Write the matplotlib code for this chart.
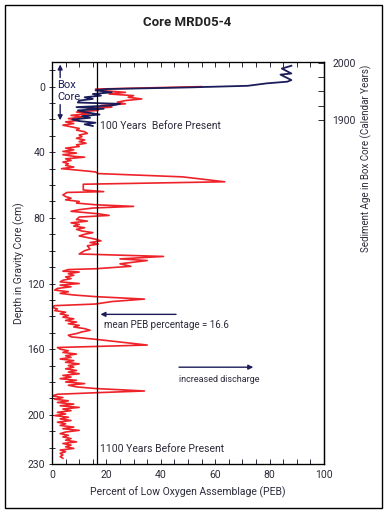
import matplotlib
matplotlib.use("Agg")
import matplotlib.pyplot as plt
from matplotlib.patches import Rectangle
from matplotlib.ticker import MultipleLocator, FixedLocator

# Gravity core: depth (cm) and percent of low oxygen assemblage (PEB)
red_depth = [0, 1.5, 2.5, 3.5, 4.5, 5.5, 6.5, 7.5, 8.5, 9.5, 10.5, 11.5, 12.5, 13.5, 14.5,
             15.5, 16.5, 17.5, 18.5, 19.5, 20.5, 21.5, 22.5, 23.5, 24.5, 25.5, 26.5, 27.5,
             28.5, 29.5, 30.5, 31.5, 32.5, 33.5, 34.5, 35.5, 36.5, 37.5, 38.5, 39.5, 40.5,
             41.5, 42.5, 43, 44, 45, 46, 47, 48, 49, 50, 51, 52, 53, 55, 58, 59.5, 63, 64,
             64.5, 66, 67, 68, 69, 70, 71, 72, 73, 74, 75, 76, 77.5, 78.5, 79.5, 81, 82, 83,
             84, 85, 86, 87, 88, 89, 90, 91, 92, 93, 94, 95, 96, 97, 99, 100, 102, 103.5,
             105, 106, 108, 109.5, 111, 111.5, 112.5, 113, 114, 115, 116, 117, 118, 119, 120,
             121, 122, 123, 124, 125, 126, 127, 128, 129.5, 131, 132.5, 133.5, 134.5, 135.5,
             136.5, 137.5, 138.5, 139.5, 140.5, 141.5, 142.5, 143.5, 144.5, 145.5, 146.5,
             147.5, 148.5, 149.5, 150.5, 151.5, 152.5, 154, 157.5, 159, 160, 161, 162, 163,
             164, 165, 166, 167, 168, 169, 170, 171, 172, 173, 174, 175, 176, 177, 178, 179,
             180, 181, 182, 183, 184, 185.5, 186.5, 187.5, 188.5, 189.5, 190.5, 191.5, 192.5,
             193.5, 194.5, 195.5, 196.5, 197.5, 198.5, 199.5, 200.5, 201.5, 202.5, 203.5,
             204.5, 205.5, 206.5, 207.5, 208.5, 209.5, 210.5, 211.5, 212.5, 213.5, 214.5,
             215.5, 216.5, 217.5, 218.5, 219.5, 220.5, 221.5, 222.5, 223.5, 224.5, 225.5, 226.5]
red_peb = [55, 16, 19, 27, 21, 30, 28, 33, 27, 24, 27, 18, 22, 13, 17,
           9, 14, 7, 11, 6, 10, 5, 8, 4, 7, 10, 9, 12,
           13, 10, 11, 9, 12, 10, 12.5, 9, 10, 5, 8, 4, 9,
           4, 8, 12, 5, 7, 4, 6, 5, 8, 3.5, 10, 16, 17, 48, 63.5, 11.5, 11.5, 19,
           5.5, 4, 5, 7, 5, 10, 9, 16, 30, 15, 10, 7, 17, 21, 10, 9, 13, 7,
           10, 8, 12, 9, 11, 15, 12, 10, 13, 16, 18, 14, 17, 13, 14, 12, 10, 41,
           25, 35, 25, 29, 16, 6, 4, 10, 6, 8, 5, 7, 4, 3, 10,
           3, 7, 2, 1, 6, 3, 8, 16, 34, 22, 16, 1, 0, 2,
           1, 5, 3, 6, 4, 8, 5, 9, 6, 10, 8,
           12, 14, 11, 9, 6, 7, 16, 35, 2, 3, 6, 4, 9,
           5, 7, 3, 8, 5, 10, 6, 8, 5, 9, 6, 10, 4, 7, 3, 9,
           5, 12, 6, 9, 16, 34, 17, 2, 0, 4, 1, 6, 2,
           8, 3, 10, 4, 7, 2, 5, 1, 6, 3, 7,
           2, 5, 3, 8, 4, 10, 5, 3, 6, 4, 7,
           5, 9, 4, 7, 5, 8, 3, 5, 3, 4, 3, 4]

# Box core: depth (cm) and PEB
box_depth = [-12.7, -11, -8, -7.3, -4, -3, -2, -0.5, 0.5, 1.5, 2.3, 3.5, 4.5, 5.5, 6.5,
             7.5, 8.5, 9.7, 10.5, 11.5, 12.5, 13.5, 14.5, 15.5, 17, 18, 19, 20, 21, 22, 23, 24]
box_peb = [88, 84.5, 88, 84, 88, 86.5, 79, 72, 50, 20, 16, 22, 15, 18, 12,
           15, 10, 9.5, 25, 22, 9, 19, 9.5, 12, 17.5, 11, 14, 7.5, 10, 16, 12, 15]

mean_peb = 16.6
depth_labels = [0, 40, 80, 120, 160, 200, 230]
year_labels = [1900, 2000]
year_ticks = [1900, 1925, 1950, 1975, 2000]

RED = "#ee2229"
NAVY = "#1b1d5a"
TXT = "#2b2b3a"

plt.rcParams['font.family'] = ['Roboto', 'DejaVu Sans']

fig = plt.figure(figsize=(3.89, 5.14), dpi=100)
fig.patches.append(Rectangle((5 / 389, 1 - 508 / 514), 377 / 389, 503 / 514,
                             transform=fig.transFigure, fill=False, lw=1.0, ec="black"))

ax = fig.add_axes([52 / 389, 1 - 464 / 514, 272 / 389, 402 / 514])
ax.plot(red_peb, red_depth, color=RED, lw=1.2)
ax.plot(box_peb, box_depth, color=NAVY, lw=1.3)
ax.axvline(mean_peb, color="black", lw=0.9)

ax.set_xlim(0, 100)
ax.set_ylim(230, -15)
ax.xaxis.set_major_locator(MultipleLocator(20))
ax.xaxis.set_minor_locator(MultipleLocator(5))
ax.yaxis.set_major_locator(FixedLocator(depth_labels))
ax.yaxis.set_minor_locator(MultipleLocator(10))
ax.tick_params(axis="x", which="both", direction="in", top=True, length=3.5, width=0.7,
               labelsize=7.5, colors=TXT, pad=4)
ax.tick_params(axis="y", which="both", direction="inout", length=4, width=0.7,
               labelsize=7.5, colors=TXT, pad=3)
for s in ax.spines.values():
    s.set_linewidth(0.9)

ax.set_xlabel("Percent of Low Oxygen Assemblage (PEB)", fontsize=7.5, color=TXT, labelpad=5)
ax.set_ylabel("Depth in Gravity Core (cm)", fontsize=7.5, color=TXT, labelpad=2)

# right axis: calendar years of the box core
ax2 = ax.twinx()
ax2.set_ylim(2000 - (230 + 14.5) / 0.348, 2000 + 0.5 / 0.348)
ax2.yaxis.set_major_locator(FixedLocator(year_labels))
ax2.yaxis.set_minor_locator(FixedLocator(year_ticks))
ax2.tick_params(axis="y", which="both", direction="in", length=4, width=0.7,
                labelsize=7.5, colors=TXT, pad=6)
ax2.spines["right"].set_linewidth(0.9)
fig.text(366 / 389, 1 - 158 / 514, "Sediment Age in Box Core (Calendar Years)",
         rotation=90, ha="center", va="center", fontsize=7, color=TXT)

fig.text(187 / 389, 1 - 22 / 514, "Core MRD05-4", ha="center", va="center",
         fontsize=9.5, fontweight="bold", color="#222222")

# annotations
ax.text(2, 2.5, "Box\nCore", ha="left", va="center", fontsize=8, color=NAVY, linespacing=1.2)
arrow = dict(arrowstyle="-|>", color=NAVY, lw=1.0, mutation_scale=7, shrinkA=0, shrinkB=0)
ax.annotate("", xy=(3, -13.5), xytext=(3, -5.5), arrowprops=arrow)
ax.annotate("", xy=(3, 20.5), xytext=(3, 11), arrowprops=arrow)
ax.text(17.6, 24, "100 Years  Before Present", ha="left", va="center", fontsize=7.5, color=TXT)
ax.text(17.6, 220.6, "1100 Years Before Present", ha="left", va="center", fontsize=7.5, color=TXT)
ax.annotate("", xy=(17.8, 138.8), xytext=(45.6, 138.8), arrowprops=arrow)
ax.text(19, 145.5, "mean PEB percentage = 16.6", ha="left", va="center", fontsize=7, color=TXT)
ax.annotate("", xy=(74, 171), xytext=(46.7, 171), arrowprops=arrow)
ax.text(46.7, 178.8, "increased discharge", ha="left", va="center", fontsize=6.5, color=TXT)

plt.savefig("out.png", dpi=100)
plt.close()
